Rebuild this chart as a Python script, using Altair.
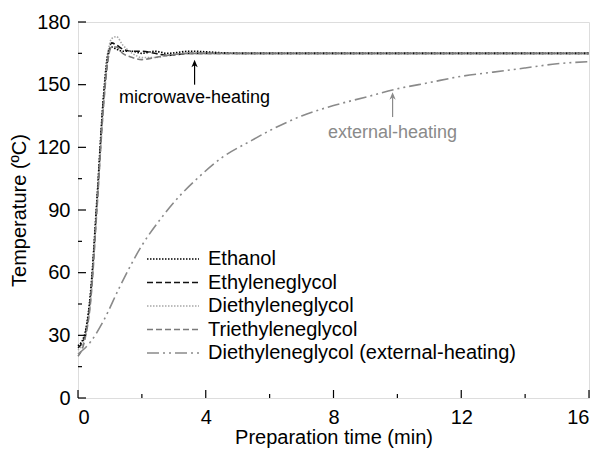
import altair as alt
import pandas as pd

# ---- data ----
series_names = ["Ethanol", "Ethyleneglycol", "Diethyleneglycol", "Triethyleneglycol",
                "Diethyleneglycol (external-heating)"]

t_mw = [0, 0.2, 0.4, 0.6, 0.8, 0.95, 1.05, 1.2, 1.4, 1.7, 2.0, 2.4, 2.8, 3.5, 5, 7, 9, 11, 13, 16]
ethanol = [25, 30, 52, 97, 145, 166, 168, 167, 166, 166, 165, 166, 165, 166, 165, 165, 165, 165, 165, 165]
ethylene = [24, 29, 50, 95, 143, 164, 170, 169, 167, 166, 166, 165, 164, 165, 165, 165, 165, 165, 165, 165]
diethylene = [23, 28, 48, 93, 140, 166, 172, 173, 169, 165, 163, 163, 164, 165, 165, 165, 165, 165, 165, 165]
triethylene = [20, 27, 47, 92, 140, 163, 168, 168, 165, 163, 162, 163, 164, 165, 165, 165, 165, 165, 165, 165]

t_ext = [0, 0.4, 0.8, 1.3, 2.0, 2.6, 3.2, 3.8, 4.5, 5.4, 6.0, 7.0, 8.0, 9.0, 10.0, 11.0, 12.0,
         13.0, 14.0, 15.0, 16.0]
external = [21, 27, 37, 53, 73, 86, 97, 106, 115, 123, 128, 135, 140, 144, 148, 151, 154,
            156, 158, 160, 161]

colors = ["#000000", "#111111", "#a8a8a8", "#7a7a7a", "#8a8a8a"]
dashes = [[1.5, 1.5], [6, 3], [1.5, 1.5], [6, 3], [12, 4, 2, 4, 2, 4]]

x_major = [0, 4, 8, 12, 16]
x_minor = [2, 6, 10, 14]
y_major = [0, 30, 60, 90, 120, 150, 180]
y_minor = [15, 45, 75, 105, 135, 165]

ann_text = ["microwave-heating", "external-heating"]
ann_x = [3.65, 9.85]
ann_text_y = [143.5, 127]
ann_tip_y = [159.5, 144]
ann_base_y = [150, 134.5]
ann_color = ["#000000", "#8a8a8a"]

# ---- build tables ----
rows = []
for name, ys in zip(series_names[:4], [ethanol, ethylene, diethylene, triethylene]):
    for t, y in zip(t_mw, ys):
        rows.append({"series": name, "t": t, "T": y})
for t, y in zip(t_ext, external):
    rows.append({"series": series_names[4], "t": t, "T": y})
df = pd.DataFrame(rows)

ann = pd.DataFrame({"text": ann_text, "x": ann_x, "ty": ann_text_y, "tip": ann_tip_y,
                    "base": ann_base_y, "color": ann_color})

FONT = "Liberation Sans"
W, H = 511, 376

xs = alt.Scale(domain=[0, 16], nice=False, zero=False)
ys = alt.Scale(domain=[0, 180], nice=False, zero=False)

axis_style = dict(ticks=False, grid=False, domain=False, labelFontSize=20, titleFontSize=20,
                  labelFont=FONT, titleFont=FONT, labelColor="#000", titleColor="#000",
                  titleFontWeight="normal")

lines = alt.Chart(df).mark_line(strokeWidth=1.6, interpolate="monotone").encode(
    x=alt.X("t:Q", scale=xs,
            axis=alt.Axis(title="Preparation time (min)", values=x_major,
                          labelPadding=9, titlePadding=0, **axis_style)),
    y=alt.Y("T:Q", scale=ys,
            axis=alt.Axis(title="Temperature (ºC)", values=y_major,
                          labelPadding=8, titlePadding=7, **axis_style)),
    color=alt.Color("series:N", scale=alt.Scale(domain=series_names, range=colors),
                    legend=alt.Legend(title=None, orient="none", legendX=85, legendY=227,
                                      symbolType="M-4,0H4", symbolSize=169, padding=0,
                                      symbolStrokeWidth=1.6, labelFontSize=20,
                                      labelFont=FONT, labelColor="#000",
                                      labelOffset=25, rowPadding=3.5, labelLimit=500)),
    strokeDash=alt.StrokeDash("series:N", scale=alt.Scale(domain=series_names, range=dashes),
                              legend=None),
    detail="series:N",
)

xt_major = alt.Chart(pd.DataFrame({"v": x_major})).mark_rule(color="#000", strokeWidth=1.2).encode(
    x=alt.X("v:Q", scale=xs), y=alt.value(H), y2=alt.value(H - 8))
xt_minor = alt.Chart(pd.DataFrame({"v": x_minor})).mark_rule(color="#000", strokeWidth=1.2).encode(
    x=alt.X("v:Q", scale=xs), y=alt.value(H), y2=alt.value(H - 4))
yt_major = alt.Chart(pd.DataFrame({"v": y_major})).mark_rule(color="#000", strokeWidth=1.2).encode(
    y=alt.Y("v:Q", scale=ys), x=alt.value(0), x2=alt.value(8))
yt_minor = alt.Chart(pd.DataFrame({"v": y_minor})).mark_rule(color="#000", strokeWidth=1.2).encode(
    y=alt.Y("v:Q", scale=ys), x=alt.value(0), x2=alt.value(4))

shaft = alt.Chart(ann).mark_rule(strokeWidth=1.2).encode(
    x=alt.X("x:Q", scale=xs), y=alt.Y("base:Q", scale=ys), y2="tip:Q",
    color=alt.Color("color:N", scale=None))
head = alt.Chart(ann).mark_point(shape="M0,-1.2L0.75,0.6L0,0.1L-0.75,0.6Z", filled=True,
                                 size=70, opacity=1).encode(
    x=alt.X("x:Q", scale=xs), y=alt.Y("tip:Q", scale=ys),
    color=alt.Color("color:N", scale=None))
labels = alt.Chart(ann).mark_text(fontSize=18, font=FONT, baseline="middle", align="center").encode(
    x=alt.X("x:Q", scale=xs), y=alt.Y("ty:Q", scale=ys), text="text:N",
    color=alt.Color("color:N", scale=None))

chart = alt.layer(lines, xt_major, xt_minor, yt_major, yt_minor, shaft, head, labels).properties(
    width=W, height=H,
    padding={"left": 78, "top": 22, "right": 14, "bottom": 52},
    autosize=alt.AutoSizeParams(type="none"),
).configure_view(stroke="#000", strokeWidth=1.5).configure(background="white")

chart.save("out.html", embed_options={"renderer": "svg", "actions": False})
